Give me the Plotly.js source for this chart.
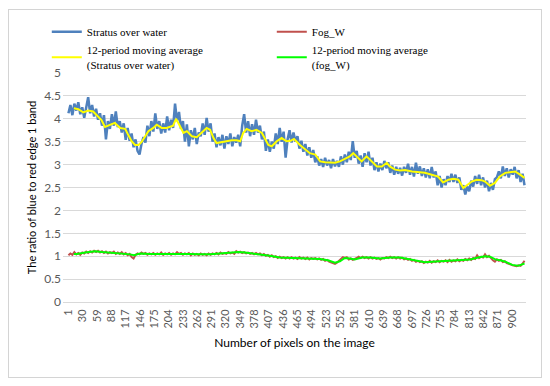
<!DOCTYPE html>
<html>
<head>
<meta charset="utf-8">
<script src="https://cdn.plot.ly/plotly-3.0.1.min.js"></script>
<style>
  html, body { margin: 0; padding: 0; background: #ffffff; }
  #wrap { position: relative; width: 550px; height: 386px; }
  #chart { position: absolute; left: 0; top: 0; width: 550px; height: 386px; }
  #frame { position: absolute; left: 8px; top: 9px; width: 532px; height: 367px;
           border: 1px solid #d4d4d4; pointer-events: none; }
</style>
</head>
<body>
<div id="wrap">
  <div id="chart"></div>
  <div id="frame"></div>
</div>
<script>
// ---- Data ----
// Raw series are sampled every 4th pixel index starting at 1 (1, 5, 9, ... 925)
const sampleStep = 4;
const stratusValues = [
  4.12,4.30,4.08,4.33,4.18,4.36,4.10,4.25,4.02,4.28,4.47,4.12,4.30,4.05,4.22,3.98,4.12,3.85,4.08,3.55,
  3.95,3.78,4.10,3.85,4.16,3.82,3.95,3.70,3.90,3.54,3.80,3.52,3.68,3.38,3.55,3.30,3.22,3.45,3.60,3.48,
  3.85,3.62,3.95,3.72,4.12,3.78,3.95,3.68,3.90,3.70,4.05,3.75,3.98,3.80,4.33,3.95,4.15,3.78,3.95,3.50,
  3.88,3.40,3.75,3.55,3.80,3.45,3.70,3.62,3.90,3.65,4.02,3.72,3.90,3.50,3.68,3.38,3.60,3.42,3.65,3.35,
  3.62,3.45,3.68,3.40,3.60,3.48,3.65,3.40,3.85,4.10,3.70,3.95,3.62,3.88,3.65,3.98,3.70,3.85,3.55,3.72,
  3.30,3.55,3.28,3.50,3.35,3.68,3.45,3.80,3.50,3.72,3.15,3.55,3.75,3.48,3.70,3.50,3.62,3.35,3.52,3.28,
  3.45,3.20,3.38,3.15,3.32,3.05,3.18,2.98,3.12,2.95,3.15,2.98,3.10,2.92,3.12,2.96,3.08,2.95,3.18,3.00,
  3.22,3.05,3.28,3.10,3.51,3.15,3.30,3.02,3.20,2.95,3.25,3.05,3.28,2.98,3.15,2.88,3.05,2.85,3.02,2.88,
  3.08,2.92,3.05,2.82,2.98,2.78,2.95,2.80,2.93,2.76,2.95,2.82,3.02,2.78,2.95,2.74,3.04,2.80,2.96,2.75,
  2.92,2.72,2.90,2.70,2.95,2.72,2.85,2.55,2.75,2.50,2.68,2.55,2.75,2.62,2.80,2.62,2.78,2.60,2.72,2.45,
  2.55,2.35,2.52,2.42,2.65,2.52,2.75,2.58,2.78,2.55,2.72,2.50,2.65,2.42,2.60,2.45,2.68,2.72,2.85,2.70,
  2.96,2.75,2.92,2.72,2.90,2.78,2.95,2.70,2.88,2.62,2.80,2.55
];
const fogValues = [
  1.02,1.06,1.03,1.09,1.04,1.07,1.03,1.08,1.06,1.10,1.07,1.11,1.08,1.12,1.09,1.12,1.08,1.11,1.07,1.10,
  1.06,1.09,1.07,1.10,1.05,1.08,1.05,1.09,1.04,1.07,1.02,1.05,0.98,0.95,1.03,1.06,1.04,1.08,1.05,1.07,
  1.03,1.06,1.04,1.07,1.03,1.06,1.04,1.08,1.03,1.06,1.04,1.07,1.03,1.06,1.04,1.09,1.05,1.07,1.03,1.06,
  1.04,1.07,1.02,1.06,1.03,1.05,1.02,1.06,1.03,1.05,1.02,1.06,1.03,1.06,1.04,1.07,1.04,1.08,1.05,1.07,
  1.05,1.09,1.06,1.08,1.05,1.11,1.08,1.10,1.07,1.09,1.06,1.08,1.05,1.07,1.04,1.07,1.04,1.06,1.02,1.05,
  1.01,1.03,0.99,1.02,0.98,1.00,0.96,0.99,0.96,0.98,0.95,0.98,0.95,0.98,0.95,0.97,0.94,0.98,0.95,0.97,
  0.94,0.97,0.93,0.96,0.94,0.96,0.93,0.95,0.92,0.94,0.90,0.92,0.88,0.86,0.84,0.83,0.86,0.90,0.95,0.98,
  0.96,0.98,0.93,0.95,0.92,0.95,0.96,0.99,0.96,0.99,0.96,0.98,0.95,0.98,0.95,0.97,0.94,0.96,0.93,0.96,
  0.95,0.98,0.96,0.99,0.96,0.98,0.95,0.98,0.95,0.97,0.93,0.95,0.92,0.94,0.90,0.92,0.88,0.90,0.87,0.89,
  0.85,0.88,0.86,0.90,0.86,0.89,0.87,0.91,0.87,0.90,0.88,0.91,0.87,0.92,0.88,0.91,0.89,0.93,0.89,0.92,
  0.90,0.94,0.91,0.95,0.92,0.96,0.94,1.02,0.96,0.99,0.97,1.04,0.98,1.01,0.95,0.91,0.88,0.93,0.90,0.92,
  0.87,0.89,0.85,0.84,0.82,0.80,0.79,0.78,0.80,0.79,0.84,0.90
];
// 12-period moving averages
const maStratusX = [12,21,31,41,51,62,68,75,85,95,106,116,122,129,136,143,149,156,163,173,180,190,200,213,219,226,234,241,251,261,271,281,288,295,301,312,322,332,342,349,355,362,372,382,393,399,406,413,423,433,443,451,458,470,480,490,501,511,521,531,541,551,561,571,578,585,595,605,615,626,636,646,652,663,673,683,697,710,723,737,750,760,771,781,791,801,808,818,828,838,845,855,865,875,886,896,906,916,925];
const maStratusY = [4.23,4.21,4.14,4.18,4.16,4.05,3.97,3.82,3.86,3.91,3.80,3.78,3.65,3.51,3.43,3.43,3.49,3.62,3.73,3.80,3.87,3.80,3.80,3.85,4.00,3.86,3.69,3.73,3.62,3.60,3.69,3.80,3.76,3.58,3.47,3.49,3.51,3.53,3.53,3.51,3.69,3.78,3.73,3.76,3.69,3.56,3.43,3.40,3.51,3.58,3.51,3.52,3.56,3.43,3.33,3.25,3.22,3.07,3.05,3.05,3.04,3.07,3.12,3.18,3.25,3.18,3.07,3.18,3.07,2.96,2.96,3.04,2.96,2.89,2.87,2.88,2.85,2.83,2.82,2.78,2.74,2.61,2.67,2.69,2.67,2.49,2.54,2.63,2.67,2.66,2.63,2.54,2.60,2.74,2.82,2.83,2.85,2.78,2.71];
const maFogX = [12,18,35,45,55,69,85,97,112,126,134,146,166,187,207,227,247,268,288,308,328,345,359,375,393,409,429,449,470,490,510,527,541,551,561,571,581,596,612,632,653,673,693,709,723,737,754,774,794,815,831,845,855,866,876,886,900,912,925];
const maFogY = [1.05,1.05,1.08,1.09,1.11,1.09,1.08,1.07,1.06,1.04,1.02,1.06,1.05,1.05,1.05,1.06,1.05,1.04,1.04,1.06,1.07,1.09,1.08,1.06,1.04,1.01,0.97,0.96,0.96,0.95,0.94,0.91,0.86,0.89,0.96,0.95,0.93,0.97,0.97,0.95,0.97,0.97,0.93,0.89,0.87,0.88,0.89,0.90,0.91,0.93,0.97,1.00,0.99,0.93,0.91,0.88,0.81,0.79,0.84];
const xTickVals = [1,30,59,88,117,146,175,204,233,262,291,320,349,378,407,436,465,494,523,552,581,610,639,668,697,726,755,784,813,842,871,900];
const seriesNames = ['Stratus over water','Fog_W','12-period moving average<br>(Stratus over water)','12-period moving average<br>(fog_W)'];

const stratusX = stratusValues.map((_, i) => 1 + i * sampleStep);
const fogX = fogValues.map((_, i) => 1 + i * sampleStep);

const traces = [
  {x: stratusX, y: stratusValues, type: 'scatter', mode: 'lines', name: seriesNames[0],
   line: {color: '#4F81BD', width: 2.5}},
  {x: fogX, y: fogValues, type: 'scatter', mode: 'lines', name: seriesNames[1],
   line: {color: '#C0504D', width: 2}},
  {x: maStratusX, y: maStratusY, type: 'scatter', mode: 'lines', name: seriesNames[2],
   line: {color: '#FFFF00', width: 2}},
  {x: maFogX, y: maFogY, type: 'scatter', mode: 'lines', name: seriesNames[3],
   line: {color: '#00FF00', width: 2}}
];

const layout = {
  width: 550, height: 386,
  margin: {l: 63, r: 24, t: 73, b: 83.5, pad: 0},
  paper_bgcolor: 'rgba(0,0,0,0)', plot_bgcolor: '#ffffff',
  font: {family: 'Lato, "Liberation Sans", sans-serif', size: 11, color: '#595959'},
  showlegend: true,
  legend: {
    orientation: 'h', x: -0.035, y: 1.243, xanchor: 'left', yanchor: 'top',
    font: {family: '"Liberation Serif", "DejaVu Serif", serif', size: 11, color: '#000000'},
    entrywidth: 180, entrywidthmode: 'pixels', bgcolor: 'rgba(0,0,0,0)',
    tracegroupgap: 0, itemclick: false
  },
  xaxis: {
    range: [-10, 928], tickmode: 'array', tickvals: xTickVals, ticktext: xTickVals.map(String),
    tickangle: -90, showgrid: false, zeroline: false, showline: true, linecolor: '#d9d9d9', linewidth: 1,
    ticks: '', tickfont: {size: 11, color: '#595959'}, ticklabelstandoff: 2,
    title: {text: 'Number of pixels on the image', font: {size: 12, color: '#000000'}, standoff: 11}
  },
  yaxis: {
    range: [0, 5], tick0: 0, dtick: 0.5, showgrid: true, gridcolor: '#d9d9d9', gridwidth: 1,
    zeroline: false, showline: false, ticks: '', ticklabelstandoff: 1,
    tickfont: {size: 12, color: '#595959'},
    title: {text: 'The ratio of blue to red edge 1 band', font: {size: 11, color: '#000000'}, standoff: 5}
  }
};

Plotly.newPlot('chart', traces, layout, {staticPlot: true, displayModeBar: false});
</script>
</body>
</html>
